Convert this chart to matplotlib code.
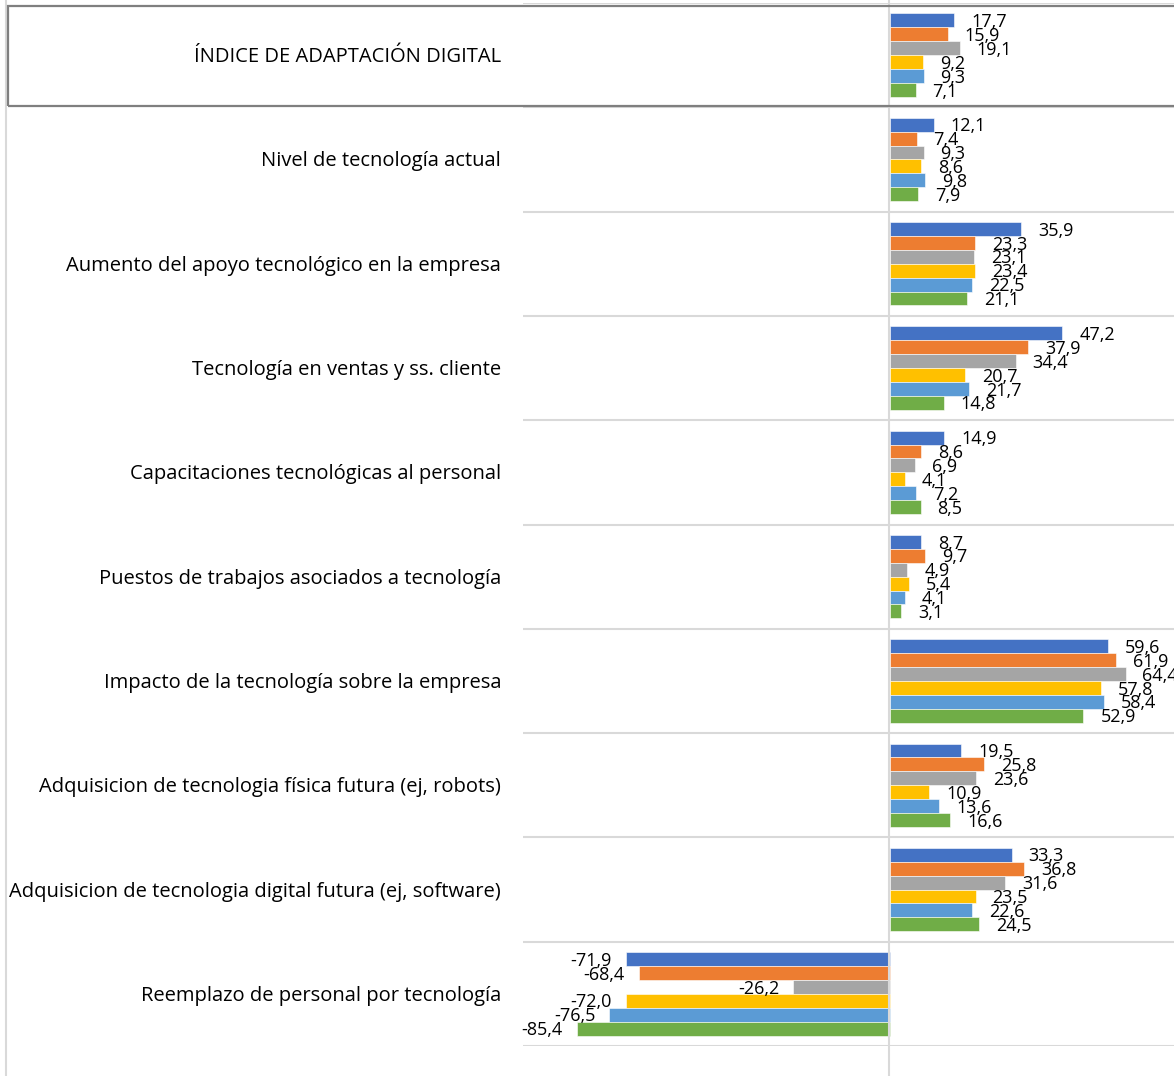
import matplotlib
matplotlib.use("Agg")
import matplotlib.pyplot as plt
from matplotlib.lines import Line2D
from matplotlib.patches import Rectangle
import numpy as np

plt.rcParams['font.family'] = ['Open Sans', 'DejaVu Sans']

categories = [
    "ÍNDICE DE ADAPTACIÓN DIGITAL",
    "Nivel de tecnología actual",
    "Aumento del apoyo tecnológico en la empresa",
    "Tecnología en ventas y ss. cliente",
    "Capacitaciones tecnológicas al personal",
    "Puestos de trabajos asociados a tecnología",
    "Impacto de la tecnología sobre la empresa",
    "Adquisicion de tecnologia física futura (ej, robots)",
    "Adquisicion de tecnologia digital futura (ej, software)",
    "Reemplazo de personal por tecnología",
]

serie1 = [17.7, 12.1, 35.9, 47.2, 14.9, 8.7, 59.6, 19.5, 33.3, -71.9]
serie2 = [15.9, 7.4, 23.3, 37.9, 8.6, 9.7, 61.9, 25.8, 36.8, -68.4]
serie3 = [19.1, 9.3, 23.1, 34.4, 6.9, 4.9, 64.4, 23.6, 31.6, -26.2]
serie4 = [9.2, 8.6, 23.4, 20.7, 4.1, 5.4, 57.8, 10.9, 23.5, -72.0]
serie5 = [9.3, 9.8, 22.5, 21.7, 7.2, 4.1, 58.4, 13.6, 22.6, -76.5]
serie6 = [7.1, 7.9, 21.1, 14.8, 8.5, 3.1, 52.9, 16.6, 24.5, -85.4]

series = [serie1, serie2, serie3, serie4, serie5, serie6]
colors = ["#4472C4", "#ED7D31", "#A5A5A5", "#FFC000", "#5B9BD5", "#70AD47"]

W, H = 1174, 1076
fig = plt.figure(figsize=(W / 100, H / 100), dpi=100)

def fx(px):
    return px / W

def fy(py):
    return 1 - py / H

ax_left, ax_right = 523, 1256
ax_top, ax_bottom = 3, 1046
ax = fig.add_axes([fx(ax_left), fy(ax_bottom), (ax_right - ax_left) / W, (ax_bottom - ax_top) / H])
ax.set_xlim(-100, 100)
ax.set_ylim(len(categories), 0)
for s in ax.spines.values():
    s.set_visible(False)
ax.set_xticks([])
ax.set_yticks([])

grid_c = "#D9D9D9"
for k in range(len(categories) + 1):
    ax.axhline(k, color=grid_c, lw=1.5, zorder=0)

n = len(series)
group = 0.8
bh = group / n
y0 = np.arange(len(categories)) + 0.5
for i, (vals, c) in enumerate(zip(series, colors)):
    ys = y0 - group / 2 + bh * (i + 0.5)
    ax.barh(ys, vals, height=bh, color=c, edgecolor="white", linewidth=0.4, zorder=2)
    for y, v in zip(ys, vals):
        lab = f"{v:.1f}".replace(".", ",")
        if v >= 0:
            ax.annotate(lab, (v, y), xytext=(12.2, -1.2), textcoords="offset points",
                        ha="left", va="center", fontsize=13, color="#000000", zorder=3)
        else:
            ax.annotate(lab, (v, y), xytext=(-10, -1.2), textcoords="offset points",
                        ha="right", va="center", fontsize=13, color="#000000", zorder=3)

# category labels
for k, cat in enumerate(categories):
    fig.text(fx(501), fy(ax_top + 2 + (k + 0.5) * (ax_bottom - ax_top) / len(categories)), cat,
             ha="right", va="center", fontsize=14.5, color="#000000")

# zero vertical line across full height
zx = fx(ax_left + (ax_right - ax_left) / 2)
fig.add_artist(Line2D([zx, zx], [0, 1], color=grid_c, lw=1.5, zorder=1))
# left border line
fig.add_artist(Line2D([fx(6), fx(6)], [0, 1], color=grid_c, lw=1.5))
# box around first category
fig.add_artist(Rectangle((fx(8), fy(106)), fx(1190) - fx(8), (106 - 6) / H,
                         fill=False, edgecolor="#7F7F7F", lw=1.6, zorder=5))

fig.savefig("out.png", dpi=100)
